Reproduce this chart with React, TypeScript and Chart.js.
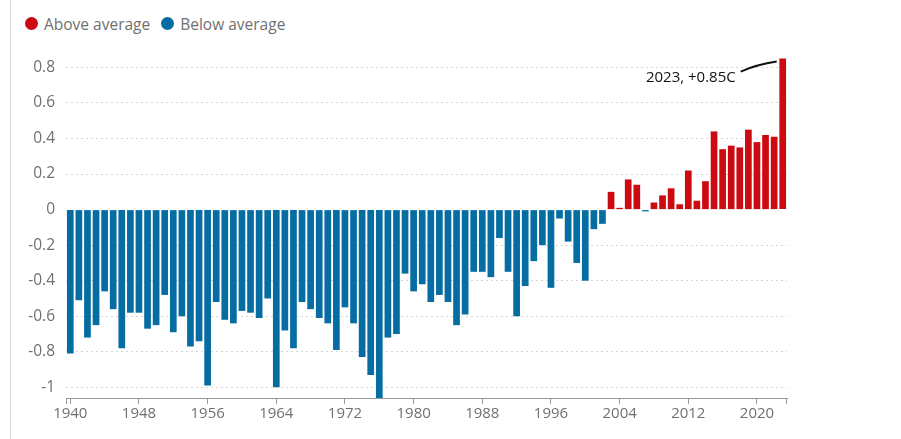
import React, { useEffect, useRef } from "react";
import { Chart, registerables } from "chart.js";

Chart.register(...registerables);

const years: string[] = [
  "1940","1941","1942","1943","1944","1945","1946","1947","1948","1949",
  "1950","1951","1952","1953","1954","1955","1956","1957","1958","1959",
  "1960","1961","1962","1963","1964","1965","1966","1967","1968","1969",
  "1970","1971","1972","1973","1974","1975","1976","1977","1978","1979",
  "1980","1981","1982","1983","1984","1985","1986","1987","1988","1989",
  "1990","1991","1992","1993","1994","1995","1996","1997","1998","1999",
  "2000","2001","2002","2003","2004","2005","2006","2007","2008","2009",
  "2010","2011","2012","2013","2014","2015","2016","2017","2018","2019",
  "2020","2021","2022","2023",
];

const anomalies: number[] = [
  -0.81, -0.51, -0.72, -0.65, -0.46, -0.56, -0.78, -0.58, -0.58, -0.67,
  -0.65, -0.48, -0.69, -0.60, -0.77, -0.74, -0.99, -0.52, -0.62, -0.64,
  -0.57, -0.58, -0.61, -0.50, -1.00, -0.68, -0.78, -0.52, -0.56, -0.61,
  -0.64, -0.79, -0.55, -0.64, -0.83, -0.93, -1.06, -0.72, -0.70, -0.36,
  -0.46, -0.42, -0.52, -0.48, -0.52, -0.65, -0.59, -0.35, -0.35, -0.38,
  -0.16, -0.35, -0.60, -0.43, -0.29, -0.20, -0.44, -0.05, -0.18, -0.30,
  -0.40, -0.11, -0.08, 0.10, 0.01, 0.17, 0.14, -0.01, 0.04, 0.08,
  0.12, 0.03, 0.22, 0.05, 0.16, 0.44, 0.34, 0.36, 0.35, 0.45,
  0.38, 0.42, 0.41, 0.85,
];

const yTicks: number[] = [-1, -0.8, -0.6, -0.4, -0.2, 0, 0.2, 0.4, 0.6, 0.8];
const xLabelYears: string[] = ["1940","1948","1956","1964","1972","1980","1988","1996","2004","2012","2020"];
const legendLabels: string[] = ["Above average", "Below average"];
const annotationYear = "2023";
const annotationText = "2023, +0.85C";

const RED = "#cc0a11";
const BLUE = "#056da1";
const GREY_TEXT = "#707070";
const FONT = '"Open Sans", "Noto Sans", sans-serif';

export default function App() {
  const ref = useRef<HTMLCanvasElement>(null);

  useEffect(() => {
    document.body.style.margin = "0";
    const canvas = ref.current!;

    const annotationPlugin = {
      id: "annot",
      afterDatasetsDraw(chart: any) {
        const ctx = chart.ctx;
        const meta = chart.getDatasetMeta(0);
        const bar = meta.data[years.indexOf(annotationYear)];
        if (!bar) return;
        const x = bar.x;
        const y = bar.y;
        ctx.save();
        ctx.strokeStyle = "#121212";
        ctx.lineWidth = 2;
        ctx.beginPath();
        ctx.moveTo(x - 42, y + 13);
        ctx.quadraticCurveTo(x - 26, y + 6, x - 6, y + 3);
        ctx.stroke();
        ctx.fillStyle = "#121212";
        ctx.font = `15px ${FONT}`;
        ctx.textAlign = "right";
        ctx.textBaseline = "middle";
        ctx.fillText(annotationText, x - 47, y + 19);
        ctx.restore();
      },
      afterDraw(chart: any) {
        const ctx = chart.ctx;
        const a = chart.chartArea;
        ctx.save();
        ctx.strokeStyle = "#999999";
        ctx.lineWidth = 1;
        ctx.beginPath();
        const l = Math.round(a.left) + 0.5;
        const r = Math.round(a.right) - 0.5;
        ctx.moveTo(l, a.bottom);
        ctx.lineTo(l, a.bottom + 6);
        ctx.moveTo(r, a.bottom);
        ctx.lineTo(r, a.bottom + 6);
        ctx.stroke();
        ctx.restore();
      },
    };

    const chart = new Chart(canvas, {
      type: "bar",
      data: {
        labels: years,
        datasets: [
          {
            data: anomalies,
            backgroundColor: anomalies.map((v) => (v > 0 ? RED : BLUE)),
            borderWidth: 0,
            barPercentage: 0.78,
            categoryPercentage: 1,
          },
        ],
      },
      options: {
        responsive: false,
        animation: false,
        layout: { padding: { left: 0, right: 114, top: 55, bottom: 0 } },
        plugins: {
          legend: { display: false },
          tooltip: { enabled: false },
        },
        scales: {
          x: {
            offset: true,
            grid: {
              offset: false,
              drawOnChartArea: false,
              drawTicks: true,
              tickLength: 6,
              tickColor: "#999999",
            },
            border: { display: true, color: "#999999", width: 1 },
            ticks: {
              autoSkip: false,
              maxRotation: 0,
              padding: 1,
              color: GREY_TEXT,
              font: { family: FONT, size: 15 },
              callback: (_v: any, i: number) =>
                xLabelYears.includes(years[i]) ? years[i] : null,
            },
            afterFit: (axis: any) => {
              axis.height = 41;
            },
          },
          y: {
            min: -1.06,
            max: 0.87,
            afterBuildTicks: (axis: any) => {
              axis.ticks = yTicks.map((v) => ({ value: v }));
            },
            afterFit: (axis: any) => {
              axis.width = 66;
            },
            grid: {
              drawTicks: false,
              color: (c: any) =>
                c.tick && c.tick.value === 0 ? "rgba(0,0,0,0)" : "#d6d6d6",
              lineWidth: 1,
            },
            border: { display: false, dash: [2, 3] },
            ticks: {
              padding: 11,
              color: GREY_TEXT,
              font: { family: FONT, size: 15.5 },
              callback: (v: any) => String(Math.round(Number(v) * 10) / 10),
            },
          },
        },
      },
      plugins: [annotationPlugin],
    });

    return () => chart.destroy();
  }, []);

  const dot = (color: string) => ({
    display: "inline-block",
    width: 13,
    height: 13,
    borderRadius: "50%",
    background: color,
    marginRight: 6,
    verticalAlign: "middle",
  });

  return (
    <div
      style={{
        position: "relative",
        width: 901,
        height: 439,
        overflow: "hidden",
        background: "#ffffff",
        fontFamily: FONT,
      }}
    >
      <div
        style={{
          position: "absolute",
          left: 10,
          top: 0,
          bottom: 0,
          borderLeft: "1px solid #dcdcdc",
        }}
      />
      <div
        style={{
          position: "absolute",
          left: 25,
          top: 11,
          fontSize: 15.5,
          color: GREY_TEXT,
          whiteSpace: "nowrap",
          lineHeight: "22px",
        }}
      >
        <span style={{ marginRight: 11 }}>
          <span style={dot(RED)} />
          <span style={{ verticalAlign: "middle" }}>{legendLabels[0]}</span>
        </span>
        <span>
          <span style={dot(BLUE)} />
          <span style={{ verticalAlign: "middle" }}>{legendLabels[1]}</span>
        </span>
      </div>
      <canvas
        ref={ref}
        width={901}
        height={439}
        style={{ position: "absolute", left: 0, top: 0, width: 901, height: 439 }}
      />
    </div>
  );
}
